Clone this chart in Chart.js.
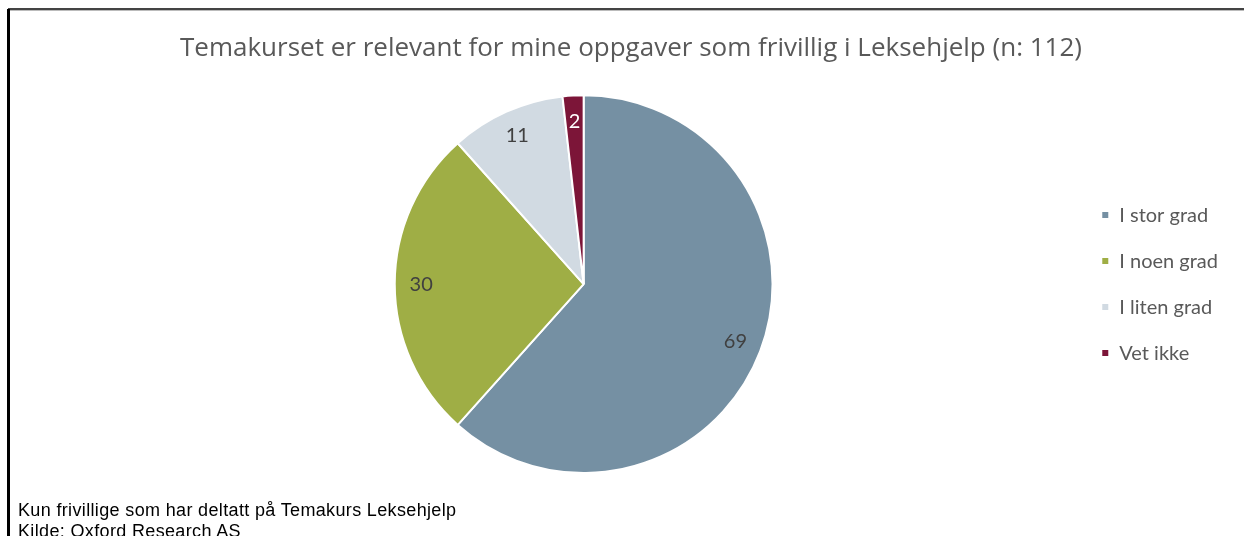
<!DOCTYPE html>
<html>
<head>
<meta charset="utf-8">
<script src="https://cdn.jsdelivr.net/npm/chart.js@4"></script>
<style>
  body { margin: 0; background: #fff; width: 1244px; height: 536px; overflow: hidden; position: relative; }
  .top-line { position: absolute; left: 8px; top: 8px; width: 1236px; height: 2px; background: #444; border-bottom: 1px solid #bbb; }
  .left-line { position: absolute; left: 7px; top: 9px; width: 3px; height: 527px; background: #000; }
  .wrap { position: absolute; left: 10px; top: 11px; width: 1234px; height: 525px; }
  .note { position: absolute; left: 18px; top: 500px; font-family: "Liberation Sans", Arial, sans-serif; font-size: 18px; line-height: 21px; letter-spacing: 0.35px; color: #000; }
</style>
</head>
<body>
<div class="top-line"></div>
<div class="left-line"></div>
<div class="wrap"><canvas id="myChart"></canvas></div>
<div class="note">Kun frivillige som har deltatt på Temakurs Leksehjelp<br>Kilde: Oxford Research AS</div>
<script>
const labels = ['I stor grad', 'I noen grad', 'I liten grad', 'Vet ikke'];
const values = [69, 30, 11, 2];
const colors = ['#7590a3', '#9fae45', '#d1dae2', '#7c1538'];
const labelColors = ['#404040', '#404040', '#404040', '#ffffff'];

// draws the numbers inside the slices
const sliceLabels = {
    id: 'sliceLabels',
    afterDatasetsDraw(chart) {
        const ctx = chart.ctx;
        const meta = chart.getDatasetMeta(0);
        ctx.save();
        ctx.font = '20px Lato, "Noto Sans", sans-serif';
        ctx.textAlign = 'center';
        ctx.textBaseline = 'middle';
        meta.data.forEach((arc, i) => {
            const p = arc.getProps(['x', 'y', 'startAngle', 'endAngle', 'outerRadius']);
            const mid = (p.startAngle + p.endAngle) / 2;
            const r = p.outerRadius * 0.86;
            ctx.fillStyle = labelColors[i];
            ctx.fillText(values[i], p.x + Math.cos(mid) * r, p.y + Math.sin(mid) * r);
        });
        ctx.restore();
    }
};

// title centred over the whole figure, not only the padded area
const wideTitle = {
    id: 'wideTitle',
    afterLayout(chart) {
        if (chart.titleBlock) {
            chart.titleBlock.left = 8;
            chart.titleBlock.right = chart.width;
        }
    }
};

const data = {
    labels : labels,
    datasets : [{
        data : values,
        backgroundColor : colors,
        borderColor : '#ffffff',
        borderWidth : 2,
    }]
};
const config = {
    type : 'pie',
    data : data,
    plugins : [sliceLabels, wideTitle],
    options : {
        responsive : true,
        maintainAspectRatio : false,
        animation : false,
        layout : {
            padding : { left: 82, right: 16, top: 0, bottom: 62 }
        },
        plugins : {
            tooltip : { enabled: false },
            title : {
                display : true,
                text : 'Temakurset er relevant for mine oppgaver som frivillig i Leksehjelp (n: 112)',
                color : '#595959',
                font : { family: '"Open Sans", "Noto Sans", sans-serif', size: 26, weight: 'normal' },
                padding : { top: 22, bottom: 30 }
            },
            legend : {
                position : 'right',
                align : 'center',
                fullSize : false,
                labels : {
                    boxWidth : 8,
                    boxHeight : 8,
                    padding : 26,
                    color : '#595959',
                    font : { family: 'Lato, "Noto Sans", sans-serif', size: 20 }
                }
            }
        }
    }
};
const myChart = new Chart(
    document.getElementById('myChart'),
    config
);
</script>
</body>
</html>
